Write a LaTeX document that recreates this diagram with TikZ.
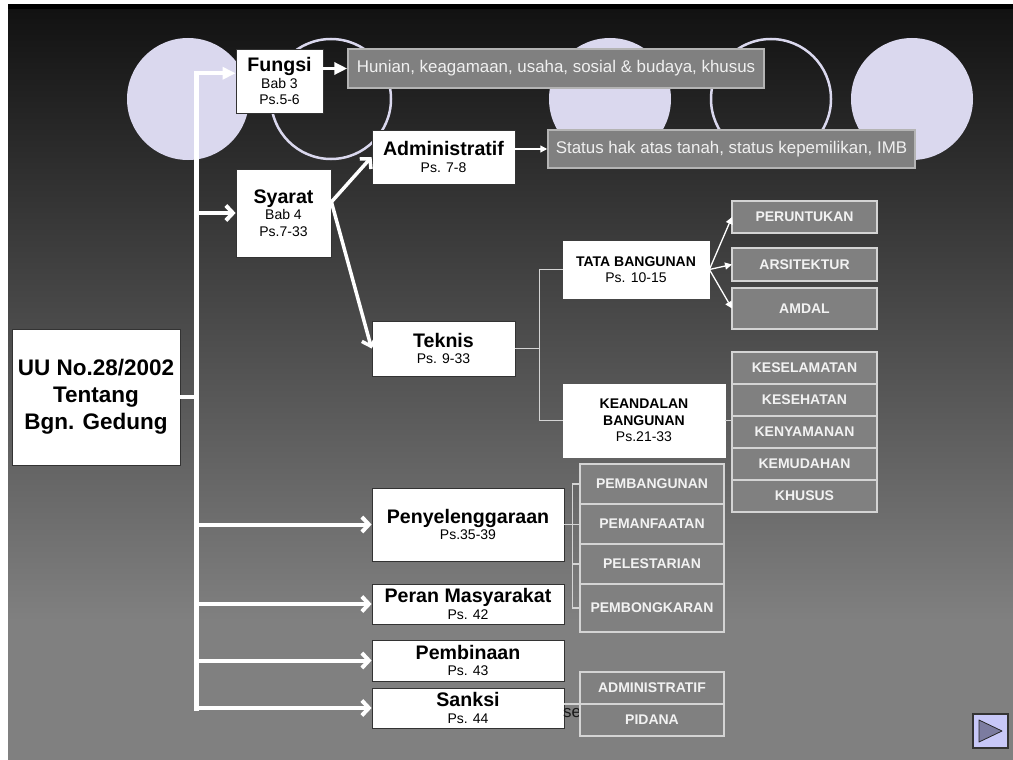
\documentclass[tikz,border=0pt]{standalone}
\usepackage{fontspec}
\setmainfont{Liberation Sans}
\usetikzlibrary{arrows.meta, positioning, calc}
\definecolor{lembayung}{HTML}{DAD8EE}
\definecolor{abu}{HTML}{808080}
\definecolor{tepi}{HTML}{D4D4D4}
\definecolor{latar}{HTML}{121212}
\definecolor{tombol}{HTML}{C8C8F8}
\definecolor{segitiga}{HTML}{7C7CA0}
\newcommand{\judul}[1]{{\fontsize{19.6}{21}\selectfont\bfseries #1}}

\begin{document}
\begin{tikzpicture}[
    x=1pt, y=-1pt,
    node distance = 0pt and 0pt,
    kotak/.style = {rectangle, draw=black!80, fill=white, line width=0.8pt, inner sep=0pt, align=center, font=\fontsize{14}{16.5}\selectfont},
    kotakabu/.style = {rectangle, draw=tepi!85!black, fill=abu, line width=1.5pt, inner sep=0pt, text=white!94!black, font=\fontsize{16.9}{19}\selectfont},
    kapital/.style = {rectangle, draw=tepi, fill=abu, line width=1.2pt, outer sep=0pt, inner sep=0pt, minimum width=145pt, minimum height=32pt, text=white!95!black, font=\fontsize{14}{16}\selectfont\bfseries},
    pil/.style = {white, line width=4pt, -{Straight Barb[length=7pt,width=15pt]}},
    pilpenuh/.style = {white, line width=4pt, -{Triangle[length=13pt,width=12pt]}},
    pilkecil/.style = {white, line width=1.3pt, -{Triangle[length=7pt,width=7pt]}},
    garis/.style = {tepi, line width=1.2pt}
    ]

  % latar belakang
  \useasboundingbox (0,0) rectangle (1013,760);
  \fill[white] (0,0) rectangle (1013,760);
  \fill[black] (8,4) rectangle (1013,10);
  \shade[top color=latar, bottom color=abu] (8,10) rectangle (1013,621);
  \fill[abu] (8,620) rectangle (1013,760);
  \foreach \cx in {188, 610, 912} \fill[lembayung] (\cx,99) circle[radius=61pt];
  \foreach \cx in {331, 771} \draw[lembayung, line width=2.5pt] (\cx,99) circle[radius=60pt];

  \node[kotak, minimum width=168pt, minimum height=136pt, font=\fontsize{22.5}{27}\selectfont\bfseries] (uu) at (96,397) {UU No.28/2002\\Tentang\\Bgn. Gedung};
  \node[kotak, minimum width=87pt, minimum height=64pt] (fungsi) at (279.5,81) {\judul{Fungsi}\\Bab 3\\Ps.5-6};
  \node[kotakabu, minimum width=416pt, minimum height=39pt] (hunian) at (556,68.5) {Hunian, keagamaan, usaha, sosial \& budaya, khusus};
  \node[kotak, minimum width=95pt, minimum height=88pt] (syarat) at (283.5,213) {\judul{Syarat}\\Bab 4\\Ps.7-33};
  \node[kotak, minimum width=143pt, minimum height=54pt] (admin) at (443.5,157) {\judul{Administratif}\\Ps. 7-8};
  \node[kotakabu, minimum width=367pt, minimum height=38pt] (status) at (731.5,149) {Status hak atas tanah, status kepemilikan, IMB};
  \node[kotak, minimum width=143pt, minimum height=55pt] (teknis) at (443.5,348.5) {\judul{Teknis}\\Ps. 9-33};
  \node[kotak, draw=white, minimum width=146pt, minimum height=57pt] (tata) at (636,269.5) {\textbf{TATA BANGUNAN}\\Ps. 10-15};
  \node[kotak, draw=white, minimum width=162pt, minimum height=73pt] (andal) at (644,420.5) {\textbf{KEANDALAN}\\\textbf{BANGUNAN}\\Ps.21-33};

  \node[kapital] (peruntukan) at (804.5,217) {PERUNTUKAN};
  \node[kapital, minimum height=33pt] (arsitektur) at (804.5,264.5) {ARSITEKTUR};
  \node[kapital, minimum height=41pt] (amdal) at (804.5,308.5) {AMDAL};
  \node[kapital] (keselamatan) at (804.5,368) {KESELAMATAN};
  \node[kapital, below=of keselamatan] (kesehatan) {KESEHATAN};
  \node[kapital, below=of kesehatan] (kenyamanan) {KENYAMANAN};
  \node[kapital, below=of kenyamanan] (kemudahan) {KEMUDAHAN};
  \node[kapital, below=of kemudahan] (khusus) {KHUSUS};

  \node[kotak, minimum width=192pt, minimum height=73pt] (penyel) at (468,524.5) {\judul{Penyelenggaraan}\\Ps.35-39};
  \node[kotak, minimum width=192pt, minimum height=40pt] (peran) at (468,604) {\judul{Peran Masyarakat}\\Ps. 42};
  \node[kotak, minimum width=192pt, minimum height=41pt] (pembinaan) at (468,660.5) {\judul{Pembinaan}\\Ps. 43};
  \node[kotak, minimum width=192pt, minimum height=40pt] (sanksi) at (468,708) {\judul{Sanksi}\\Ps. 44};
  \node[anchor=base west, inner sep=0pt, font=\fontsize{16.9}{19}\selectfont, text=black!90] (sisa) at (563,717) {ser};

  \node[kapital, minimum width=144pt, minimum height=40pt] (pembangunan) at (652,484) {PEMBANGUNAN};
  \node[kapital, minimum width=144pt, minimum height=40pt, below=of pembangunan] (pemanfaatan) {PEMANFAATAN};
  \node[kapital, minimum width=144pt, minimum height=40pt, below=of pemanfaatan] (pelestarian) {PELESTARIAN};
  \node[kapital, minimum width=144pt, minimum height=48pt, below=of pelestarian] (pembongkaran) {PEMBONGKARAN};
  \node[kapital, minimum width=144pt] (sanksiadm) at (652,688) {ADMINISTRATIF};
  \node[kapital, minimum width=144pt, below=of sanksiadm] (pidana) {PIDANA};

  % tombol maju
  \node[draw=black!80, fill=tombol, line width=1.5pt, minimum width=35pt, minimum height=34pt, inner sep=0pt] (maju) at (990.5,731) {};
  \draw[black!85, fill=segitiga, line width=0.8pt, line join=round] ($(maju.center)+(-11.5,-11)$) -- ($(maju.center)+(11.5,0)$) -- ($(maju.center)+(-11.5,11)$) -- cycle;

  % batang utama
  \coordinate (tk) at (196,0);
  \draw[white, line width=5pt, line cap=rect] (fungsi.170 -| tk) -- (sanksi.west -| tk);
  \draw[white, line width=4pt] (uu.east) -- (uu.east -| tk);
  \draw[pilpenuh] (fungsi.170 -| tk) -- (fungsi.170);
  \foreach \b in {syarat, penyel, peran, pembinaan, sanksi}
    \draw[pil] (\b.west -| tk) -- (\b.west);

  \draw[pilpenuh, line width=3.5pt] (fungsi.east |- hunian.west) -- (hunian.west);
  \draw[pil, line width=3.5pt] (syarat.13) -- (admin.west);
  \draw[pil, line width=3.5pt] (syarat.13) -- (teknis.west);
  \draw[pilkecil] (admin.east |- status.west) -- (status.west);
  \foreach \s in {peruntukan, arsitektur, amdal}
    \draw[pilkecil] (tata.east) -- (\s.west);

  \coordinate (cab) at ($(teknis.east)+(24,0)$);
  \draw[garis] (teknis.east) -- (cab);
  \draw[garis] (tata.west) -| (cab) |- (andal.west);
  \draw[garis] (andal.east) -- (andal.east -| kenyamanan.west);

  \coordinate (cab2) at ($(penyel.east)+(8,0)$);
  \draw[garis] (penyel.east) -- (penyel.east -| pemanfaatan.west);
  \draw[garis] (pembangunan.west) -| (cab2) |- (pembongkaran.west);
  \draw[garis] (pelestarian.west -| cab2) -- (pelestarian.west);
  \draw[garis] (sanksi.east |- pidana.north) -- (pidana.north west);
\end{tikzpicture}
\end{document}
